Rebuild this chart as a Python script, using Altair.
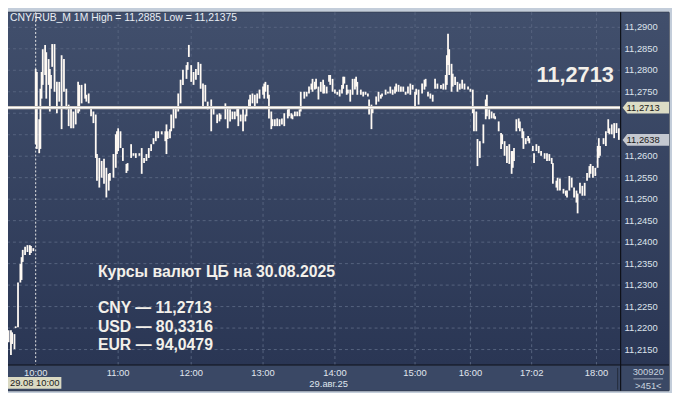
import altair as alt
import pandas as pd

# ---------------- data ----------------
# minute-bar sequence number of each drawn bar (session starts 10:00 at bar 23)
bar_no = [
    0, 2, 3, 5, 6, 8, 10, 11, 12, 14,
    16, 18, 19, 21, 23, 24, 26, 27, 28, 29,
    31, 32, 34, 35, 36, 37, 39, 41, 43, 45,
    47, 49, 51, 53, 55, 57, 59, 60, 62, 65,
    66, 68, 70, 72, 74, 75, 77, 79, 81, 83,
    85, 86, 89, 91, 92, 93, 95, 97, 100, 101,
    104, 106, 108, 111, 113, 115, 117, 119, 121, 123,
    125, 127, 130, 133, 134, 135, 137, 138, 140, 142,
    144, 146, 148, 151, 152, 153, 155, 157, 159, 161,
    163, 165, 167, 169, 172, 174, 177, 179, 180, 184,
    186, 188, 190, 192, 194, 195, 197, 199, 201, 202,
    204, 205, 207, 209, 211, 213, 216, 217, 218, 220,
    221, 223, 224, 226, 228, 230, 232, 234, 237, 238,
    240, 241, 243, 245, 247, 248, 251, 253, 255, 257,
    258, 260, 261, 263, 265, 267, 268, 270, 272, 273,
    275, 277, 279, 281, 283, 284, 285, 287, 288, 290,
    292, 294, 295, 296, 299, 301, 303, 305, 306, 308,
    309, 312, 314, 316, 317, 320, 322, 324, 326, 328,
    329, 331, 333, 335, 337, 339, 341, 343, 345, 346,
    348, 351, 353, 354, 356, 358, 360, 362, 364, 367,
    369, 371, 372, 373, 374, 376, 377, 379, 381, 383,
    385, 387, 390, 392, 394, 395, 397, 398, 400, 403,
    405, 406, 408, 410, 412, 413, 416, 418, 419, 421,
    423, 425, 427, 428, 429, 431, 433, 434, 436, 437,
    439, 441, 442, 445, 446, 448, 450, 452, 455, 457,
    459, 461, 462, 465, 466, 468, 471, 473, 474, 476,
    478, 480, 482, 483, 485, 487, 489, 491, 493, 494,
    496, 498, 500, 501, 502, 505, 507, 509, 510, 512,
    514, 516, 518,
]

bar_high = [
    11.2195, 11.2195, 11.2190, 11.2186, 11.2204, 11.2306, 11.2349, 11.2365, 11.2382, 11.2389,
    11.2393, 11.2393, 11.2391, 11.2386, 11.2803, 11.2796, 11.2686, 11.2757, 11.2796, 11.2849,
    11.2859, 11.2842, 11.2826, 11.2803, 11.2789, 11.2861, 11.2861, 11.2773, 11.2773, 11.2835,
    11.2826, 11.2757, 11.2720, 11.2711, 11.2704, 11.2711, 11.2773, 11.2766, 11.2766, 11.2769,
    11.2743, 11.2746, 11.2711, 11.2704, 11.2697, 11.2605, 11.2596, 11.2589, 11.2594, 11.2573,
    11.2559, 11.2561, 11.2605, 11.2651, 11.2658, 11.2665, 11.2658, 11.2619, 11.2582, 11.2584,
    11.2628, 11.2607, 11.2607, 11.2607, 11.2619, 11.2596, 11.2605, 11.2619, 11.2628, 11.2642,
    11.2658, 11.2658, 11.2658, 11.2658, 11.2674, 11.2658, 11.2663, 11.2697, 11.2716, 11.2716,
    11.2746, 11.2778, 11.2801, 11.2812, 11.2819, 11.2859, 11.2812, 11.2796, 11.2803, 11.2819,
    11.2815, 11.2769, 11.2766, 11.2727, 11.2732, 11.2711, 11.2697, 11.2700, 11.2697, 11.2723,
    11.2716, 11.2709, 11.2704, 11.2704, 11.2711, 11.2716, 11.2697, 11.2709, 11.2697, 11.2716,
    11.2732, 11.2743, 11.2746, 11.2743, 11.2746, 11.2755, 11.2762, 11.2769, 11.2773, 11.2766,
    11.2743, 11.2704, 11.2686, 11.2686, 11.2688, 11.2686, 11.2688, 11.2700, 11.2709, 11.2711,
    11.2700, 11.2697, 11.2704, 11.2704, 11.2709, 11.2750, 11.2750, 11.2750, 11.2762, 11.2769,
    11.2780, 11.2773, 11.2780, 11.2762, 11.2773, 11.2778, 11.2766, 11.2762, 11.2789, 11.2789,
    11.2780, 11.2755, 11.2750, 11.2755, 11.2766, 11.2785, 11.2785, 11.2766, 11.2755, 11.2755,
    11.2780, 11.2780, 11.2785, 11.2773, 11.2755, 11.2750, 11.2750, 11.2746, 11.2732, 11.2720,
    11.2711, 11.2739, 11.2750, 11.2743, 11.2746, 11.2755, 11.2750, 11.2762, 11.2755, 11.2762,
    11.2769, 11.2766, 11.2762, 11.2762, 11.2750, 11.2762, 11.2769, 11.2766, 11.2750, 11.2757,
    11.2755, 11.2769, 11.2778, 11.2780, 11.2750, 11.2746, 11.2743, 11.2780, 11.2769, 11.2766,
    11.2769, 11.2789, 11.2835, 11.2885, 11.2849, 11.2815, 11.2792, 11.2785, 11.2773, 11.2769,
    11.2778, 11.2769, 11.2762, 11.2757, 11.2755, 11.2716, 11.2704, 11.2640, 11.2635, 11.2674,
    11.2732, 11.2743, 11.2709, 11.2704, 11.2700, 11.2693, 11.2681, 11.2654, 11.2651, 11.2635,
    11.2624, 11.2628, 11.2612, 11.2612, 11.2619, 11.2686, 11.2688, 11.2681, 11.2665, 11.2658,
    11.2642, 11.2647, 11.2642, 11.2624, 11.2607, 11.2628, 11.2624, 11.2612, 11.2607, 11.2607,
    11.2605, 11.2596, 11.2584, 11.2543, 11.2550, 11.2548, 11.2524, 11.2520, 11.2520, 11.2554,
    11.2550, 11.2527, 11.2520, 11.2513, 11.2538, 11.2531, 11.2538, 11.2561, 11.2577, 11.2582,
    11.2577, 11.2573, 11.2624, 11.2642, 11.2624, 11.2642, 11.2658, 11.2686, 11.2665, 11.2674,
    11.2677, 11.2677, 11.2665,
]

bar_low = [
    11.2167, 11.21375, 11.2163, 11.2151, 11.2200, 11.2202, 11.2306, 11.2312, 11.2354, 11.2370,
    11.2377, 11.2370, 11.2375, 11.2379, 11.2628, 11.2617, 11.2607, 11.2617, 11.2734, 11.2766,
    11.2789, 11.2734, 11.2766, 11.2704, 11.2757, 11.2808, 11.2750, 11.2700, 11.2727, 11.2663,
    11.2750, 11.2709, 11.2670, 11.2665, 11.2665, 11.2674, 11.2700, 11.2704, 11.2723, 11.2734,
    11.2727, 11.2723, 11.2693, 11.2677, 11.2596, 11.2543, 11.2527, 11.2550, 11.2536, 11.2504,
    11.2520, 11.2543, 11.2550, 11.2573, 11.2605, 11.2612, 11.2619, 11.2589, 11.2561, 11.2566,
    11.2596, 11.2601, 11.2596, 11.2601, 11.2559, 11.2584, 11.2589, 11.2596, 11.2612, 11.2628,
    11.2635, 11.2642, 11.2651, 11.2635, 11.2605, 11.2640, 11.2642, 11.2658, 11.2665, 11.2688,
    11.2704, 11.2723, 11.2766, 11.2780, 11.2801, 11.2831, 11.2773, 11.2766, 11.2778, 11.2789,
    11.2757, 11.2711, 11.2727, 11.2709, 11.2658, 11.2697, 11.2677, 11.2681, 11.2686, 11.2686,
    11.2665, 11.2681, 11.2686, 11.2686, 11.2693, 11.2670, 11.2681, 11.2658, 11.2681, 11.2693,
    11.2711, 11.2716, 11.2723, 11.2716, 11.2723, 11.2734, 11.2743, 11.2734, 11.2750, 11.2734,
    11.2688, 11.2663, 11.2670, 11.2670, 11.2670, 11.2670, 11.2674, 11.2670, 11.2688, 11.2693,
    11.2688, 11.2686, 11.2693, 11.2693, 11.2693, 11.2704, 11.2734, 11.2739, 11.2746, 11.2755,
    11.2750, 11.2755, 11.2757, 11.2732, 11.2750, 11.2746, 11.2746, 11.2746, 11.2773, 11.2766,
    11.2750, 11.2746, 11.2743, 11.2739, 11.2746, 11.2757, 11.2769, 11.2743, 11.2746, 11.2727,
    11.2743, 11.2755, 11.2762, 11.2743, 11.2743, 11.2739, 11.2743, 11.2739, 11.2697, 11.2663,
    11.2700, 11.2720, 11.2727, 11.2734, 11.2739, 11.2743, 11.2746, 11.2746, 11.2743, 11.2746,
    11.2750, 11.2750, 11.2750, 11.2750, 11.2743, 11.2746, 11.2743, 11.2755, 11.2716, 11.2743,
    11.2720, 11.2746, 11.2755, 11.2762, 11.2739, 11.2734, 11.2727, 11.2757, 11.2757, 11.2757,
    11.2755, 11.2755, 11.2766, 11.2812, 11.2789, 11.2750, 11.2762, 11.2766, 11.2750, 11.2755,
    11.2757, 11.2755, 11.2755, 11.2750, 11.2700, 11.2658, 11.2658, 11.2577, 11.2596, 11.2630,
    11.2686, 11.2693, 11.2686, 11.2688, 11.2688, 11.2686, 11.2658, 11.2617, 11.2628, 11.2601,
    11.2584, 11.2582, 11.2559, 11.2573, 11.2589, 11.2658, 11.2665, 11.2658, 11.2642, 11.2617,
    11.2628, 11.2635, 11.2630, 11.2612, 11.2584, 11.2612, 11.2607, 11.2601, 11.2594, 11.2589,
    11.2589, 11.2582, 11.2536, 11.2527, 11.2520, 11.2520, 11.2513, 11.2508, 11.2504, 11.2520,
    11.2527, 11.2504, 11.2492, 11.2467, 11.2513, 11.2508, 11.2508, 11.2543, 11.2550, 11.2559,
    11.2550, 11.2554, 11.2573, 11.2596, 11.2601, 11.2628, 11.2624, 11.2654, 11.2651, 11.2651,
    11.2642, 11.2654, 11.2638,
]

# time axis: bar sequence numbers of the labelled minutes
tick_bar = [23, 93, 155, 216, 277, 345, 392, 444, 499]
tick_label = ["10:00", "11:00", "12:00", "13:00", "14:00", "15:00", "16:00", "17:02", "18:00"]

# price axis
price_grid = [11.2150, 11.2200, 11.2250, 11.2300, 11.2350, 11.2400, 11.2450, 11.2500,
              11.2550, 11.2600, 11.2650, 11.2700, 11.2750, 11.2800, 11.2850, 11.2900]
price_labels_shown = [11.2150, 11.2200, 11.2250, 11.2300, 11.2350, 11.2400, 11.2450, 11.2500,
                      11.2550, 11.2600, 11.2750, 11.2800, 11.2850, 11.2900]

cb_rate = 11.2713
last_price = 11.2638
cb_rate_text = "11,2713"
last_price_text = "11,2638"

header_text = "CNY/RUB_M 1M High = 11,2885 Low = 11,21375"
note_title = "Курсы валют ЦБ на 30.08.2025"
note_lines = ["CNY — 11,2713", "USD — 80,3316", "EUR — 94,0479"]
cursor_text = "29.08 10:00"
date_text = "29.авг.25"
corner_top = "300920"
corner_bottom = ">451<"

# ---------------- chart ----------------
W, H = 620, 357
FONT = "Liberation Sans"

bars_df = pd.DataFrame({"bar": bar_no, "high": bar_high, "low": bar_low})
one = pd.DataFrame({"k": [0]})
ylab_df = pd.DataFrame({"p": price_labels_shown,
                        "t": [f"{v:.4f}".replace(".", ",") for v in price_labels_shown]})
xlab_df = pd.DataFrame({"b": tick_bar, "t": tick_label})

xs = alt.Scale(domain=[-0.5, 519.5], nice=False, zero=False)
ys = alt.Scale(domain=[11.2114, 11.2935], nice=False, zero=False)

grad = alt.LinearGradient(
    gradient="linear", x1=0, y1=0, x2=0, y2=1,
    stops=[alt.GradientStop(color="#414f6c", offset=0),
           alt.GradientStop(color="#2a3654", offset=1)],
)


def box(x0, x1, y0, y1, **kw):
    return alt.Chart(one).mark_rect(**kw).encode(
        x=alt.value(x0), x2=alt.value(x1), y=alt.value(y0), y2=alt.value(y1))


def label(txt, x, y, **kw):
    return alt.Chart(pd.DataFrame({"t": [txt]})).mark_text(font=FONT, **kw).encode(
        text="t:N", x=alt.value(x), y=alt.value(y))


panel = box(0, 669, 0, 383, color="#34415e", stroke="#161b28", strokeWidth=1)
plot_bg = box(0, W, 0, H, color=grad)
right_bg = box(W, 669, 0, H, color=grad)
bottom_bg = box(0, 669, H, 383, color="#3a4865")

grid_h = alt.Chart(pd.DataFrame({"p": price_grid})).mark_rule(
    color="#56647f", strokeDash=[3, 3], strokeWidth=1).encode(
    y=alt.Y("p:Q", scale=ys, axis=None))
grid_v = alt.Chart(pd.DataFrame({"b": tick_bar[1:]})).mark_rule(
    color="#56647f", strokeDash=[3, 3], strokeWidth=1).encode(
    x=alt.X("b:Q", scale=xs, axis=None))
start_line = alt.Chart(pd.DataFrame({"b": tick_bar[:1]})).mark_rule(
    color="#e8e8e8", strokeDash=[2, 2], strokeWidth=1).encode(
    x=alt.X("b:Q", scale=xs, axis=None))

bars = alt.Chart(bars_df).mark_rule(color="#fffaf4", strokeWidth=1.8).encode(
    x=alt.X("bar:Q", scale=xs, axis=None),
    y=alt.Y("high:Q", scale=ys, axis=None),
    y2="low:Q",
)

# axis labels drawn through the same scales
y_labels = alt.Chart(ylab_df).mark_text(
    font=FONT, fontSize=9.5, color="#dde3ec", align="left", baseline="middle").encode(
    x=alt.value(W + 4), y=alt.Y("p:Q", scale=ys, axis=None), text="t:N")
x_labels = alt.Chart(xlab_df).mark_text(
    font=FONT, fontSize=9.5, color="#e0e6ee", align="center", baseline="top").encode(
    x=alt.X("b:Q", scale=xs, axis=None), y=alt.value(H + 3), text="t:N")

cb_df = pd.DataFrame({"p": [cb_rate], "t": [cb_rate_text]})
last_df = pd.DataFrame({"p": [last_price], "t": [last_price_text]})

cb_line_outer = alt.Chart(cb_df).mark_rule(color="#cdc8c2", strokeWidth=3.2).encode(
    y=alt.Y("p:Q", scale=ys, axis=None))
cb_line_inner = alt.Chart(cb_df).mark_rule(color="#ffffff", strokeWidth=1.4).encode(
    y=alt.Y("p:Q", scale=ys, axis=None))

sep_v = alt.Chart(one).mark_rule(color="#0e1118", strokeWidth=1.2).encode(
    x=alt.value(W), y=alt.value(0), y2=alt.value(383))
sep_h = alt.Chart(one).mark_rule(color="#0e1118", strokeWidth=1.2).encode(
    x=alt.value(0), x2=alt.value(669), y=alt.value(H))
sep_b = alt.Chart(one).mark_rule(color="#252d3c", strokeWidth=1).encode(
    x=alt.value(617), y=alt.value(360), y2=alt.value(382))

TAG = "M -1 0 L -0.8 -0.25 L 1 -0.25 L 1 0.25 L -0.8 0.25 Z"


def tag(df, fill):
    shape = alt.Chart(df).mark_point(shape=TAG, size=2209, filled=True, color=fill,
                                     opacity=1, strokeWidth=0).encode(
        x=alt.value(645.5), y=alt.Y("p:Q", scale=ys, axis=None))
    txt = alt.Chart(df).mark_text(font=FONT, fontSize=9.5, color="#1a1a1a", align="left",
                                  baseline="middle").encode(
        x=alt.value(626), y=alt.Y("p:Q", scale=ys, axis=None), text="t:N")
    return shape + txt


cb_tag = tag(cb_df, "#dcdcc5")
last_tag = tag(last_df, "#c4c8d0")

header = label(header_text, 2, 9, fontSize=10.5, color="#e9edf3", align="left",
               baseline="alphabetic")
big = label(cb_rate_text, 574, 71, fontSize=22, fontWeight="bold", color="#f3f0ea",
            align="center", baseline="alphabetic")
note = label(note_title, 91, 267.5, fontSize=16, fontWeight="bold", color="#f3f0ea",
             align="left", baseline="alphabetic")
note_rows = [label(t, 91, yb, fontSize=16, fontWeight="bold", color="#f3f0ea",
                   align="left", baseline="alphabetic")
             for t, yb in zip(note_lines, [304, 323.3, 341.7])]

cursor_box = box(0, 54, 369, 381, color="#dad9c3")
cursor_lbl = label(cursor_text, 27, 375.5, fontSize=9.5, color="#1a1a1a", align="center",
                   baseline="middle")
date_lbl = label(date_text, 324.5, 376, fontSize=9.5, color="#dfe5ee", align="center",
                 baseline="middle")
corner1 = label(corner_top, 648, 364, fontSize=9.5, color="#c9d3df", align="center",
                baseline="middle")
corner_line = alt.Chart(one).mark_rule(color="#9aa6b7", strokeWidth=1).encode(
    x=alt.value(633), x2=alt.value(663), y=alt.value(371))
corner2 = label(corner_bottom, 648, 378, fontSize=9.5, color="#c9d3df", align="center",
                baseline="middle")

chart = alt.layer(
    panel, plot_bg, right_bg, bottom_bg,
    grid_h, grid_v, start_line,
    bars,
    cb_line_outer, cb_line_inner,
    sep_v, sep_h, sep_b,
    y_labels, x_labels,
    cb_tag, last_tag,
    header, big, note, *note_rows,
    cursor_box, cursor_lbl, date_lbl, corner1, corner_line, corner2,
).properties(
    width=W, height=H,
    padding={"left": 0, "top": 2, "right": 52, "bottom": 26},
    autosize=alt.AutoSizeParams(type="none"),
).configure(
    background="#c3cdda",
).configure_view(stroke=None)

chart.save("out.html", embed_options={"renderer": "svg", "actions": False})
